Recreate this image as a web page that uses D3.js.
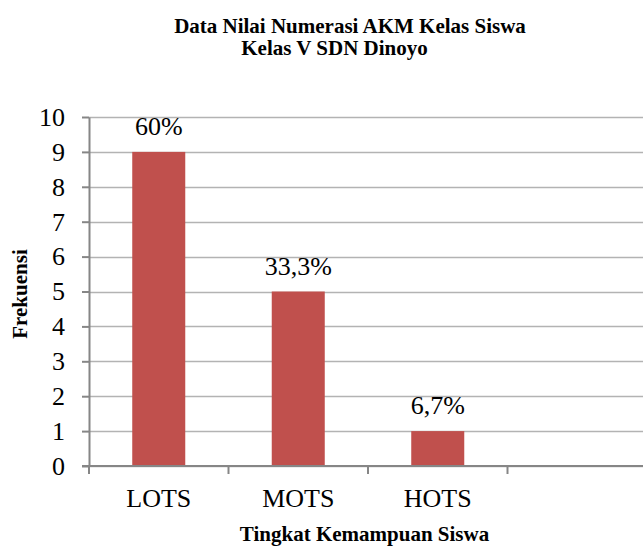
<!DOCTYPE html>
<html>
<head>
<meta charset="utf-8">
<script src="https://cdn.jsdelivr.net/npm/d3@7"></script>
<style>
  body { margin: 0; background: #fff; }
</style>
</head>
<body>
<div id="chart"></div>
<script>
// data
var categories = ["LOTS", "MOTS", "HOTS", ""];
var frekuensi = [9, 5, 1, null];
var persen = ["60%", "33,3%", "6,7%", ""];
var yTicks = [0, 1, 2, 3, 4, 5, 6, 7, 8, 9, 10];

var FONT = "'Liberation Serif', 'Times New Roman', Tinos, serif";
var width = 643, height = 546;
var margin = {top: 117, right: -4, bottom: 80, left: 89};

var svg = d3.select("#chart").append("svg")
    .attr("width", width)
    .attr("height", height)
    .attr("font-family", FONT);

var x = d3.scaleBand()
    .domain(categories.map((c, i) => i))
    .range([margin.left, width - margin.right])
    .paddingInner(0.62)
    .paddingOuter(0.31);

var y = d3.scaleLinear()
    .domain([0, 10])
    .range([height - margin.bottom, margin.top]);

// gridlines
svg.append("g")
  .selectAll("line")
  .data(yTicks)
  .join("line")
    .attr("x1", margin.left)
    .attr("x2", width)
    .attr("y1", d => Math.round(y(d)) + 0.5)
    .attr("y2", d => Math.round(y(d)) + 0.5)
    .attr("stroke", "#b3b3b3")
    .attr("stroke-width", 1.5);

// bars
svg.append("g")
  .selectAll("rect")
  .data(frekuensi.map((v, i) => ({v: v, i: i})).filter(d => d.v != null))
  .join("rect")
    .attr("x", d => x(d.i))
    .attr("width", x.bandwidth())
    .attr("y", d => y(d.v))
    .attr("height", d => y(0) - y(d.v))
    .attr("fill", "#c0504d");

// value labels
svg.append("g")
  .selectAll("text")
  .data(frekuensi.map((v, i) => ({v: v, i: i, t: persen[i]})).filter(d => d.v != null))
  .join("text")
    .attr("x", d => x(d.i) + x.bandwidth() / 2)
    .attr("y", d => y(d.v) - 17)
    .attr("text-anchor", "middle")
    .style("font-family", FONT)
    .style("font-size", "26px")
    .text(d => d.t);

// y axis
var yAxis = svg.append("g")
    .attr("transform", "translate(" + margin.left + ",0)")
    .call(d3.axisLeft(y).tickValues(yTicks).tickSize(7).tickPadding(17).tickSizeOuter(0));
yAxis.select(".domain").attr("stroke", "#868686").attr("stroke-width", 2);
yAxis.selectAll(".tick line").attr("stroke", "#868686").attr("stroke-width", 2);
yAxis.selectAll(".tick text")
    .attr("fill", "#000")
    .style("font-family", FONT)
    .style("font-size", "26px");

// x axis
var step = x.step();
var xb = d3.scaleLinear().domain([0, categories.length]).range([margin.left, margin.left + step * categories.length]);
var xAxis = svg.append("g")
    .attr("transform", "translate(0," + y(0) + ")");
xAxis.append("line")
    .attr("x1", margin.left - 7)
    .attr("x2", width)
    .attr("stroke", "#868686")
    .attr("stroke-width", 2);
xAxis.selectAll(".sep")
  .data(d3.range(categories.length + 1))
  .join("line")
    .attr("class", "sep")
    .attr("x1", d => xb(d))
    .attr("x2", d => xb(d))
    .attr("y1", 0)
    .attr("y2", 8)
    .attr("stroke", "#868686")
    .attr("stroke-width", 2);
xAxis.selectAll(".lbl")
  .data(categories)
  .join("text")
    .attr("class", "lbl")
    .attr("x", (d, i) => x(i) + x.bandwidth() / 2)
    .attr("y", 41)
    .attr("text-anchor", "middle")
    .style("font-family", FONT)
    .style("font-size", "26px")
    .text(d => d);

// titles
var title = svg.append("text")
    .attr("text-anchor", "middle")
    .style("font-family", FONT)
    .style("font-size", "21px")
    .style("font-weight", "bold");
title.append("tspan").attr("x", 350).attr("y", 33).text("Data Nilai Numerasi AKM Kelas Siswa");
title.append("tspan").attr("x", 334.5).attr("y", 54.5).text("Kelas V SDN Dinoyo");

svg.append("text")
    .attr("transform", "translate(27,294) rotate(-90)")
    .attr("text-anchor", "middle")
    .style("font-family", FONT)
    .style("font-size", "21px")
    .style("font-weight", "bold")
    .text("Frekuensi");

svg.append("text")
    .attr("x", 364.5)
    .attr("y", 541)
    .attr("text-anchor", "middle")
    .style("font-family", FONT)
    .style("font-size", "21px")
    .style("font-weight", "bold")
    .text("Tingkat Kemampuan Siswa");
</script>
</body>
</html>
